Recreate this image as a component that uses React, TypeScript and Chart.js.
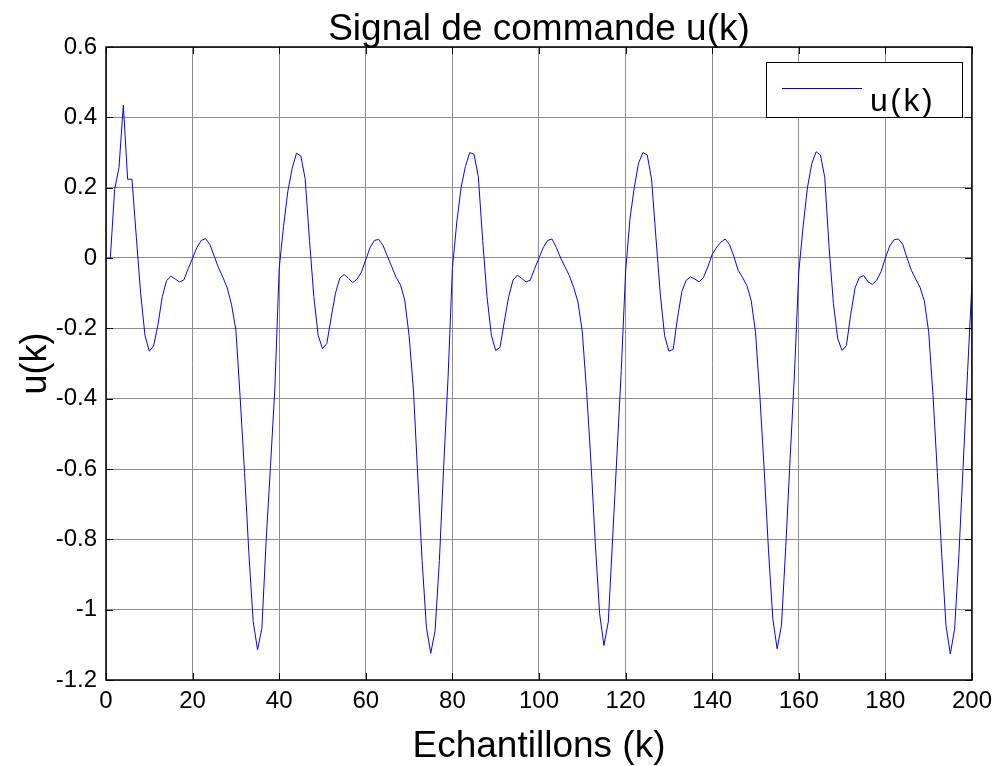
import React, { useEffect, useRef } from "react";
import { Chart, registerables } from "chart.js";

Chart.register(...registerables);

const TITLE = "Signal de commande u(k)";
const X_LABEL = "Echantillons (k)";
const Y_LABEL = "u(k)";
const SERIES_LABEL = "u(k)";

const X_TICKS = [0, 20, 40, 60, 80, 100, 120, 140, 160, 180, 200];
const Y_TICKS = [-1.2, -1, -0.8, -0.6, -0.4, -0.2, 0, 0.2, 0.4, 0.6];

// u(k), k = 1..40
const U_P1 = [
  0.0, 0.195, 0.257, 0.435, 0.224, 0.224, 0.06, -0.1, -0.22, -0.265,
  -0.25, -0.19, -0.11, -0.064, -0.052, -0.06, -0.068, -0.062, -0.03, 0.0,
  0.03, 0.05, 0.055, 0.038, 0.005, -0.028, -0.055, -0.085, -0.133, -0.205,
  -0.4, -0.61, -0.84, -1.034, -1.114, -1.053, -0.8, -0.59, -0.37, -0.03,
];
// k = 41..80
const U_P2 = [
  0.09, 0.19, 0.255, 0.298, 0.29, 0.225, 0.05, -0.11, -0.22, -0.258,
  -0.243, -0.17, -0.1, -0.057, -0.047, -0.058, -0.07, -0.06, -0.04, -0.005,
  0.03, 0.05, 0.053, 0.035, 0.005, -0.025, -0.055, -0.076, -0.12, -0.22,
  -0.375, -0.62, -0.86, -1.05, -1.124, -1.06, -0.86, -0.59, -0.34, -0.03,
];
// k = 81..120
const U_P3 = [
  0.1, 0.2, 0.26, 0.3, 0.295, 0.23, 0.05, -0.11, -0.22, -0.263,
  -0.254, -0.18, -0.11, -0.063, -0.049, -0.058, -0.068, -0.063, -0.03, 0.0,
  0.03, 0.05, 0.054, 0.03, 0.0, -0.025, -0.05, -0.083, -0.125, -0.21,
  -0.38, -0.58, -0.81, -1.011, -1.102, -1.035, -0.8, -0.56, -0.32, -0.04,
];
// k = 121..160
const U_P4 = [
  0.11, 0.2, 0.27, 0.3, 0.293, 0.224, 0.06, -0.1, -0.22, -0.265,
  -0.26, -0.17, -0.095, -0.063, -0.054, -0.06, -0.068, -0.055, -0.025, 0.01,
  0.03, 0.045, 0.054, 0.038, 0.005, -0.035, -0.055, -0.078, -0.12, -0.21,
  -0.39, -0.6, -0.83, -1.026, -1.111, -1.045, -0.82, -0.57, -0.33, -0.04,
];
// k = 161..200
const U_P5 = [
  0.09, 0.2, 0.268, 0.302, 0.293, 0.229, 0.03, -0.13, -0.23, -0.263,
  -0.249, -0.16, -0.085, -0.055, -0.05, -0.068, -0.075, -0.063, -0.039, 0.0,
  0.034, 0.052, 0.054, 0.039, 0.0, -0.035, -0.06, -0.083, -0.122, -0.21,
  -0.39, -0.61, -0.84, -1.045, -1.126, -1.054, -0.84, -0.58, -0.32, -0.07,
];

const U = [...U_P1, ...U_P2, ...U_P3, ...U_P4, ...U_P5];
const K = U.map((_, i) => i + 1);

const FONT = '"Liberation Sans", Arial, Helvetica, sans-serif';

const decorPlugin = {
  id: "matlabDecor",
  afterDraw(chart: any) {
    const { ctx, chartArea: a, scales } = chart;
    const xs = scales.x;
    const ys = scales.y;
    ctx.save();

    // axes box
    ctx.strokeStyle = "#000";
    ctx.lineWidth = 1.5;
    ctx.strokeRect(a.left, a.top, a.right - a.left, a.bottom - a.top);

    // inward tick marks
    ctx.lineWidth = 1;
    ctx.beginPath();
    X_TICKS.forEach((v) => {
      const p = Math.round(xs.getPixelForValue(v)) + 0.5;
      ctx.moveTo(p, a.bottom);
      ctx.lineTo(p, a.bottom - 7);
      ctx.moveTo(p, a.top);
      ctx.lineTo(p, a.top + 7);
    });
    Y_TICKS.forEach((v) => {
      const p = Math.round(ys.getPixelForValue(v)) + 0.5;
      ctx.moveTo(a.left, p);
      ctx.lineTo(a.left + 7, p);
      ctx.moveTo(a.right, p);
      ctx.lineTo(a.right - 7, p);
    });
    ctx.stroke();

    // title and axis labels
    ctx.fillStyle = "#000";
    ctx.font = `37px ${FONT}`;
    ctx.textAlign = "center";
    ctx.textBaseline = "alphabetic";
    const cx = (a.left + a.right) / 2;
    ctx.fillText(TITLE, cx, 40);
    ctx.fillText(X_LABEL, cx, 757);
    ctx.save();
    ctx.font = `36px ${FONT}`;
    ctx.translate(46, (a.top + a.bottom) / 2);
    ctx.rotate(-Math.PI / 2);
    ctx.fillText(Y_LABEL, 0, 0);
    ctx.restore();

    // legend
    const lx = 766.5, ly = 62.5, lw = 196, lh = 55;
    ctx.fillStyle = "#fff";
    ctx.fillRect(lx, ly, lw, lh);
    ctx.strokeStyle = "#000";
    ctx.lineWidth = 1;
    ctx.strokeRect(lx, ly, lw, lh);
    const ds = chart.data.datasets[0];
    ctx.strokeStyle = ds.borderColor;
    ctx.beginPath();
    ctx.moveTo(782, 88.5);
    ctx.lineTo(862, 88.5);
    ctx.stroke();
    ctx.fillStyle = "#000";
    ctx.font = `32px ${FONT}`;
    ctx.textAlign = "left";
    try {
      (ctx as any).letterSpacing = "2.5px";
    } catch (e) {}
    ctx.fillText(ds.label, 870, 111);
    ctx.restore();
  },
};

export default function App() {
  const ref = useRef<HTMLCanvasElement | null>(null);

  useEffect(() => {
    if (!ref.current) return;
    const chart = new Chart(ref.current, {
      type: "line",
      data: {
        datasets: [
          {
            label: SERIES_LABEL,
            data: K.map((k, i) => ({ x: k, y: U[i] })),
            borderColor: "#0000ff",
            borderWidth: 1,
            pointRadius: 0,
            tension: 0,
            fill: false,
          },
        ],
      },
      options: {
        animation: false,
        responsive: false,
        layout: { padding: { top: 47, right: 25, left: 0, bottom: 0 } },
        plugins: {
          legend: { display: false },
          title: { display: false },
          tooltip: { enabled: false },
        },
        scales: {
          x: {
            type: "linear",
            min: 0,
            max: 200,
            afterFit: (s: any) => {
              s.height = 86;
            },
            afterBuildTicks: (s: any) => {
              s.ticks = X_TICKS.map((v) => ({ value: v }));
            },
            grid: { color: "#8c8c8c", lineWidth: 1, drawTicks: false },
            border: { display: false },
            ticks: {
              color: "#000",
              font: { family: FONT, size: 24 },
              padding: 7,
              maxRotation: 0,
              autoSkip: false,
              callback: (v: any) => String(v),
            },
          },
          y: {
            type: "linear",
            min: -1.2,
            max: 0.6,
            afterFit: (s: any) => {
              s.width = 106;
            },
            afterBuildTicks: (s: any) => {
              s.ticks = Y_TICKS.map((v) => ({ value: v }));
            },
            grid: { color: "#8c8c8c", lineWidth: 1, drawTicks: false },
            border: { display: false },
            ticks: {
              color: "#000",
              font: { family: FONT, size: 24 },
              padding: 9,
              autoSkip: false,
              callback: (v: any) => String(Math.round(Number(v) * 10) / 10),
            },
          },
        },
      },
      plugins: [decorPlugin],
    });
    return () => chart.destroy();
  }, []);

  return (
    <div style={{ position: "fixed", left: 0, top: 0, width: 999, height: 766, background: "#fff" }}>
      <canvas ref={ref} width={999} height={766} style={{ width: 999, height: 766, display: "block" }} />
    </div>
  );
}
